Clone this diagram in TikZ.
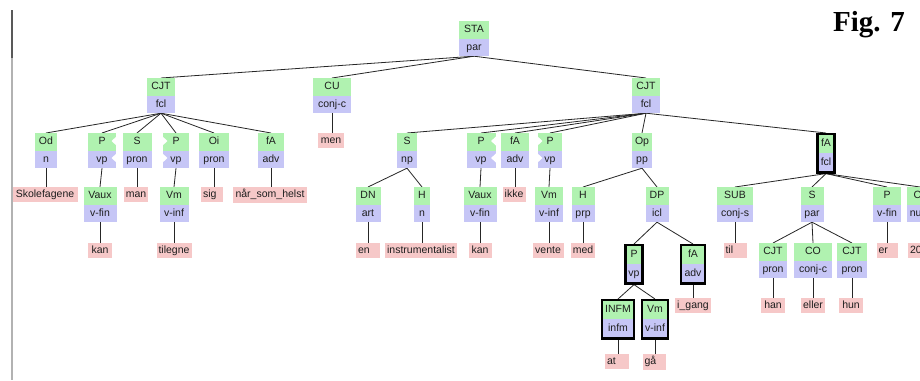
\documentclass[tikz,border=0pt]{standalone}
\usepackage{fontspec}
\newfontfamily\lblfont{Liberation Sans}
\newfontfamily\figfont{Liberation Serif}
\usetikzlibrary{shapes.multipart,backgrounds,calc}
\definecolor{gr}{RGB}{176,242,176}
\definecolor{bl}{RGB}{198,198,246}
\definecolor{pk}{RGB}{246,200,200}
\definecolor{txt}{RGB}{30,30,30}
\newcommand\stT{\rule[-2.5pt]{0pt}{10.5pt}}
\newcommand\tn[7][]{\node[inode,minimum width=#5pt,#1] (#2) at (#3,#4) {\stT #6\nodepart{two}\stT #7};}
\newcommand\lf[6][]{\node[leaf,minimum width=#5pt,#1] (#2) at (#3,#4) {\stT #6};}
\newcommand\notchR[1]{%
  \fill[white] ($(#1.north east)+(0.6,3)$) -- ($(#1.north east)+(-4.5,8)$) -- ($(#1.north east)+(0.6,13)$) -- cycle;
  \fill[white] ($(#1.north east)+(0.6,20)$) -- ($(#1.north east)+(-4.5,25)$) -- ($(#1.north east)+(0.6,30)$) -- cycle;}
\newcommand\notchL[1]{%
  \fill[white] ($(#1.north west)+(-0.6,3)$) -- ($(#1.north west)+(4.5,8)$) -- ($(#1.north west)+(-0.6,13)$) -- cycle;
  \fill[white] ($(#1.north west)+(-0.6,20)$) -- ($(#1.north west)+(4.5,25)$) -- ($(#1.north west)+(-0.6,30)$) -- cycle;}
\tikzset{
  inode/.style={rectangle split, rectangle split parts=2,
    rectangle split part fill={gr,bl}, rectangle split draw splits=false,
    inner xsep=2pt, inner ysep=3.25pt, anchor=north, text=txt,
    font=\lblfont\fontsize{10.5}{12}\selectfont},
  thickbox/.style={draw=black, line width=2.2pt},
  leaf/.style={fill=pk, inner xsep=2pt, inner ysep=2.25pt, anchor=north, text=txt,
    font=\lblfont\fontsize{10.5}{12}\selectfont},
  shortleaf/.style={text width=#1pt, align=left},
  conn/.style={draw=black!85, line width=0.8pt},
}
\begin{document}
\begin{tikzpicture}[x=1pt,y=-1pt]
\useasboundingbox (0,0) rectangle (920,380);
\clip (0,0) rectangle (920,380);
\begin{scope}[on background layer]
  \fill[white] (0,0) rectangle (920,380);
\end{scope}
% frame line at the left
\draw[line width=1.5pt, black!30] (12,10) -- (12,380);
\draw[line width=1.5pt, black!65] (12,10) -- (12,58);
% title
\node[font=\figfont\bfseries\fontsize{29}{30}\selectfont, anchor=base west, inner sep=0pt] (fig) at (833,31) {Fig. 7};
% internal nodes
\tn{sta}{474}{21}{30}{STA}{par}
\tn{cjt1}{161}{78}{28}{CJT}{fcl}
\tn{cu}{332}{78}{38}{CU}{conj-c}
\tn{cjt2}{646}{78}{28}{CJT}{fcl}
\tn{od}{46}{133}{22}{Od}{n}
\tn{p1}{102}{133}{28}{P}{vp}
\tn{s1}{137}{133}{29}{S}{pron}
\tn{p2}{176}{133}{26}{P}{vp}
\tn{oi}{214}{133}{30}{Oi}{pron}
\tn{fa1}{271}{133}{26}{fA}{adv}
\tn{s2}{407}{133}{20}{S}{np}
\tn{p3}{481}{133}{29}{P}{vp}
\tn{fa2}{515}{133}{28}{fA}{adv}
\tn{p4}{550}{133}{24}{P}{vp}
\tn{op}{642}{133}{20}{Op}{pp}
\tn[thickbox]{fa3}{826}{133}{17}{fA}{fcl}
\tn{vaux1}{100}{187}{33}{Vaux}{v-fin}
\tn{vm1}{174}{187}{29}{Vm}{v-inf}
\tn{dn}{368}{187}{25}{DN}{art}
\tn{h1}{422}{187}{16}{H}{n}
\tn{vaux2}{480}{187}{33}{Vaux}{v-fin}
\tn{vm2}{549}{187}{28}{Vm}{v-inf}
\tn{h2}{583}{187}{23}{H}{prp}
\tn{dp}{657}{187}{23}{DP}{icl}
\tn{sub}{735}{187}{36}{SUB}{conj-s}
\tn{s3}{812}{187}{23}{S}{par}
\tn{p6}{887}{187}{28}{P}{v-fin}
\tn{cs}{920}{187}{26}{Cs}{num}
\tn[thickbox]{p5}{634}{244}{17}{P}{vp}
\tn[thickbox]{fa4}{693}{244}{24}{fA}{adv}
\tn{cjt3}{773}{243}{28}{CJT}{pron}
\tn{co}{813}{243}{38}{CO}{conj-c}
\tn{cjt4}{852}{243}{30}{CJT}{pron}
\tn[thickbox]{infm}{618}{299}{32}{INFM}{infm}
\tn[thickbox]{vm3}{655}{299}{26}{Vm}{v-inf}
% notches of discontinuous constituents
\notchR{p1}
\notchL{p2}
\notchR{p3}
\notchL{p4}
% leaves
\lf{skole}{45}{187}{65}{Skolefagene}
\lf{man}{136}{187}{24}{man}
\lf[shortleaf=18]{sig}{212}{187}{22}{sig}
\lf{naar}{270}{187}{74}{når\_som\_helst}
\lf{kan1}{100}{243}{24}{kan}
\lf{tilegne}{174}{243}{35}{tilegne}
\lf{men}{331}{133}{26}{men}
\lf[shortleaf=20]{en}{368}{243}{24}{en}
\lf{instr}{421}{243}{71}{instrumentalist}
\lf{kan2}{480}{243}{23}{kan}
\lf{ikke}{514}{187}{23}{ikke}
\lf{vente}{548}{243}{31}{vente}
\lf{med}{583}{243}{24}{med}
\lf[shortleaf=19]{til}{735}{243}{23}{til}
\lf[shortleaf=17]{er}{887}{243}{21}{er}
\lf[shortleaf=20]{n20}{920}{243}{24}{20}
\lf{igang}{693}{298}{34}{i\_gang}
\lf{han}{773}{298}{24}{han}
\lf{eller}{813}{298}{21}{eller}
\lf{hun}{851}{298}{24}{hun}
\lf[shortleaf=20]{at}{617}{354}{24}{at}
\lf[shortleaf=19]{gaa}{654}{354}{23}{gå}
% connectors
\begin{scope}[on background layer]
\foreach \a/\b in {sta/cjt1, sta/cu, sta/cjt2,
  cjt1/od, cjt1/p1, cjt1/s1, cjt1/p2, cjt1/oi, cjt1/fa1,
  p1/vaux1, p2/vm1,
  cjt2/s2, cjt2/p3, cjt2/fa2, cjt2/p4, cjt2/op, cjt2/fa3,
  s2/dn, s2/h1, p3/vaux2, p4/vm2, op/h2, op/dp,
  dp/p5, dp/fa4, p5/infm, p5/vm3,
  fa3/sub, fa3/s3, fa3/p6, fa3/cs,
  s3/cjt3, s3/co, s3/cjt4}
  \draw[conn] (\a.south) -- (\b.north);
\foreach \a/\b in {od/skole, s1/man, oi/sig, fa1/naar, vaux1/kan1, vm1/tilegne,
  cu/men, dn/en, h1/instr, vaux2/kan2, fa2/ikke, vm2/vente, h2/med,
  sub/til, p6/er, cs/n20, fa4/igang, cjt3/han, co/eller, cjt4/hun,
  infm/at, vm3/gaa}
  \draw[conn] (\a.south) -- (\a.south |- \b.north);
\end{scope}
\end{tikzpicture}
\end{document}
